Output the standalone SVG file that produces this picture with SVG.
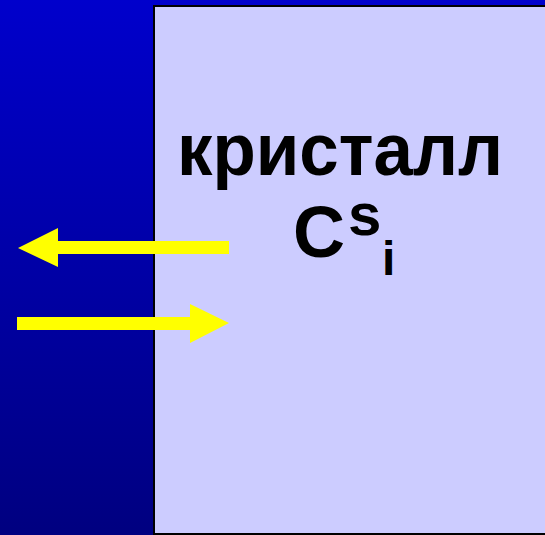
<svg xmlns="http://www.w3.org/2000/svg" width="545" height="535" viewBox="0 0 545 535">
<style>
.t{font-family:"Liberation Sans",Arial,sans-serif;font-weight:bold;fill:#000}
.arrow{fill:#FFFF00}
</style>
<defs>
<linearGradient id="bg" x1="0" y1="0" x2="0" y2="1">
<stop offset="0" stop-color="#0000CC"/>
<stop offset="1" stop-color="#000080"/>
</linearGradient>
</defs>
<rect x="0" y="0" width="545" height="535" fill="url(#bg)"/>
<g id="crystal">
<rect x="154" y="6" width="400" height="528" fill="#CCCCFF" stroke="#000" stroke-width="2"/>
<text class="t" x="177" y="175" font-size="74" textLength="326" lengthAdjust="spacingAndGlyphs">кристалл</text>
<text class="t" x="293" y="257" font-size="72">C</text>
<text class="t" x="348" y="235" font-size="60">s</text>
<text class="t" x="382" y="275" font-size="48">i</text>
</g>
<g id="connectors">
<polygon class="arrow" points="229,241 58,241 58,228 18,248 58,267 58,254 229,254"/>
<polygon class="arrow" points="17,317 190,317 190,304 229,323 190,343 190,330 17,330"/>
</g>
</svg>
